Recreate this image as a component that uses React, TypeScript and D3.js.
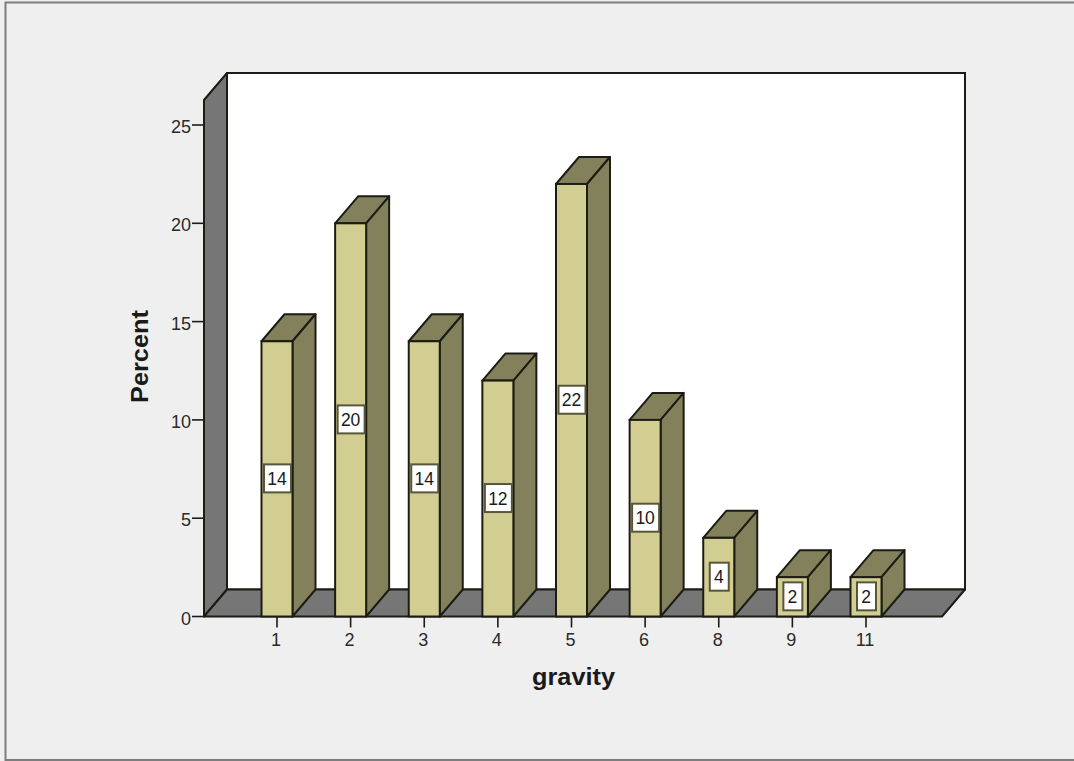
import React from "react";
import * as d3 from "d3";

const categories = ["1", "2", "3", "4", "5", "6", "8", "9", "11"];
const percents = [14, 20, 14, 12, 22, 10, 4, 2, 2];
const yTicks = [0, 5, 10, 15, 20, 25];

const WIDTH = 1074;
const HEIGHT = 761;
const DEPTH_X = 23;
const DEPTH_Y = 27;
const BAR_W = 31;
const FONT = "Arial, 'Liberation Sans', sans-serif";
const INK = "#1c1c14";

const y = d3.scaleLinear().domain([0, 25]).range([616.5, 125]);
const x = d3.scalePoint<string>().domain(categories).range([277, 866]);

const FLOOR_L = 204;
const FLOOR_R = 942;
const TOP_Y = 100;

const poly = (pts: [number, number][]) => d3.line()(pts)! + "Z";

export default function App() {
  const y0 = y(0);
  return (
    <svg
      width={WIDTH}
      height={HEIGHT}
      style={{ position: "absolute", left: 0, top: 0, background: "#efefef" }}
    >
      {/* Outer frame */}
      <rect x={5.5} y={2.5} width={1200} height={757.5} fill="none" stroke="#7d7d7d" strokeWidth={2} />

      {/* Back wall, side wall and floor */}
      <rect x={FLOOR_L + DEPTH_X} y={TOP_Y - DEPTH_Y} width={FLOOR_R - FLOOR_L} height={y0 - TOP_Y} fill="#fff" stroke={INK} strokeWidth={2} />
      <path
        d={poly([[FLOOR_L, TOP_Y], [FLOOR_L + DEPTH_X, TOP_Y - DEPTH_Y], [FLOOR_L + DEPTH_X, y0 - DEPTH_Y], [FLOOR_L, y0]])}
        fill="#767676" stroke={INK} strokeWidth={2} strokeLinejoin="round"
      />
      <path
        d={poly([[FLOOR_L, y0], [FLOOR_L + DEPTH_X, y0 - DEPTH_Y], [FLOOR_R + DEPTH_X, y0 - DEPTH_Y], [FLOOR_R, y0]])}
        fill="#767676" stroke={INK} strokeWidth={2} strokeLinejoin="round"
      />

      {/* Value axis */}
      {yTicks.map((t) => (
        <g key={t}>
          <line x1={FLOOR_L - 12} x2={FLOOR_L} y1={y(t)} y2={y(t)} stroke={INK} strokeWidth={1.6} />
          <text x={FLOOR_L - 13} y={y(t) + 8} textAnchor="end" fontFamily={FONT} fontSize={18} fill="#2a2a2a">{t}</text>
        </g>
      ))}
      <text
        transform={`translate(148,403) rotate(-90)`}
        fontFamily={FONT}
        fontSize={23}
        fontWeight={700}
        fill="#1a1a1a"
        textLength={93}
        lengthAdjust="spacingAndGlyphs"
      >Percent</text>

      {/* Bars, each with its front, top and side faces */}
      {categories.map((c, i) => {
        const v = percents[i];
        const cx = x(c)!;
        const l = cx - BAR_W / 2;
        const r = cx + BAR_W / 2;
        const t = y(v);
        const boxW = String(v).length > 1 ? 27 : 19;
        return (
          <g key={c}>
            <line x1={cx} x2={cx} y1={y0} y2={y0 + 11} stroke={INK} strokeWidth={1.6} />
            <text x={cx - 1} y={y0 + 29} textAnchor="middle" fontFamily={FONT} fontSize={18} fill="#2a2a2a">{c}</text>
            <path
              d={poly([[l, t], [l + DEPTH_X, t - DEPTH_Y], [r + DEPTH_X, t - DEPTH_Y], [r, t]])}
              fill="#83815b" stroke={INK} strokeWidth={2} strokeLinejoin="round"
            />
            <path
              d={poly([[r, t], [r + DEPTH_X, t - DEPTH_Y], [r + DEPTH_X, y0 - DEPTH_Y], [r, y0]])}
              fill="#83815b" stroke={INK} strokeWidth={2} strokeLinejoin="round"
            />
            <rect x={l} y={t} width={BAR_W} height={y0 - t} fill="#d2cd90" stroke={INK} strokeWidth={2} />
            <rect
              x={cx + 0.5 - boxW / 2}
              y={y(v / 2) - 14.5}
              width={boxW}
              height={28}
              fill="#fff"
              stroke="#57563a"
              strokeWidth={2}
            />
            <text x={cx} y={y(v / 2) + 6} textAnchor="middle" fontFamily={FONT} fontSize={17.5} fill="#1a1a1a">{v}</text>
          </g>
        );
      })}

      <text
        x={532}
        y={685}
        fontFamily={FONT}
        fontSize={23}
        fontWeight={700}
        fill="#1a1a1a"
        textLength={83}
        lengthAdjust="spacingAndGlyphs"
      >gravity</text>
    </svg>
  );
}
